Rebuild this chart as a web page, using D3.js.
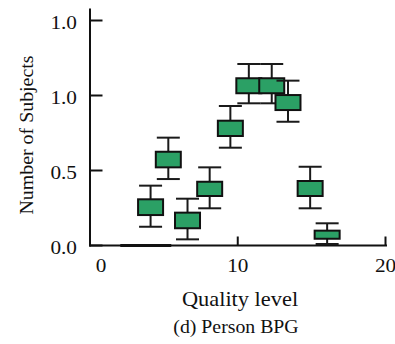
<!DOCTYPE html>
<html>
<head>
<meta charset="utf-8">
<script src="https://cdn.jsdelivr.net/npm/d3@7"></script>
<style>
  body { margin: 0; background: #fff; }
  svg text { font-family: "Liberation Serif", "Times New Roman", serif; fill: #111; }
</style>
</head>
<body>
<div id="chart"></div>
<script>
// box plot values
let quality = [4.1, 5.3, 6.6, 8.1, 9.5, 10.75, 12.3, 13.4, 14.9, 16.05];
let whiskerLow = [0.125, 0.443, 0.041, 0.248, 0.652, 0.948, 0.948, 0.825, 0.248, 0.01];
let q1 = [0.203, 0.521, 0.115, 0.33, 0.73, 1.015, 1.015, 0.903, 0.33, 0.045];
let q3 = [0.308, 0.625, 0.219, 0.425, 0.832, 1.115, 1.115, 1.003, 0.43, 0.099];
let whiskerHigh = [0.399, 0.719, 0.312, 0.521, 0.93, 1.21, 1.21, 1.099, 0.525, 0.148];
let zeroRun = [2.05, 5.5];

let xTicks = [0, 10, 20];
let yTicks = [0, 0.5, 1.0, 1.5];
let yTickLabels = ["0.0", "0.5", "1.0", "1.0"];

let width = 395;
let height = 344;

let svg = d3.select("#chart").append("svg")
    .attr("width", width)
    .attr("height", height);

let x = d3.scaleLinear().domain([0, 20]).range([90, 385.5]);
let y = d3.scaleLinear().domain([0, 1.5]).range([245.5, 20.5]);

// stretched text, the figure looks a bit wider than its font
function label(str, px, py, size, anchor, sx, rot) {
    return svg.append("text")
        .attr("transform", `translate(${px},${py})` + (rot ? ` rotate(${rot})` : "") + ` scale(${sx},1)`)
        .attr("text-anchor", anchor)
        .style("font-size", size + "px")
        .text(str);
}

// axes
svg.append("line")
    .attr("x1", x(0)).attr("x2", x(0))
    .attr("y1", y(1.58)).attr("y2", y(0) + 1)
    .attr("stroke", "#111").attr("stroke-width", 2);
svg.append("line")
    .attr("x1", x(0) - 1).attr("x2", x(20.1))
    .attr("y1", y(0)).attr("y2", y(0))
    .attr("stroke", "#111").attr("stroke-width", 2);
svg.append("line")
    .attr("x1", x(zeroRun[0])).attr("x2", x(zeroRun[1]))
    .attr("y1", y(0)).attr("y2", y(0))
    .attr("stroke", "#111").attr("stroke-width", 3);

svg.selectAll(".ytick")
    .data(yTicks)
    .join("line")
        .attr("x1", x(0)).attr("x2", x(0) + 12.5)
        .attr("y1", d => y(d)).attr("y2", d => y(d))
        .attr("stroke", "#111").attr("stroke-width", 2);

svg.selectAll(".xtick")
    .data(xTicks.slice(1))
    .join("line")
        .attr("x1", d => x(d)).attr("x2", d => x(d))
        .attr("y1", y(0)).attr("y2", y(0) - 9)
        .attr("stroke", "#111").attr("stroke-width", 2);

yTicks.forEach((d, i) => label(yTickLabels[i], 77, y(d) + 8, 18.5, "end", 1.15));
xTicks.forEach(d => label(String(d), x(d) + (d == 0 ? 11 : 0), 272, 18.5, "middle", 1.15));

label("Number of Subjects", 33, 135, 19.5, "middle", 1.02, -90);
label("Quality level", 240, 306, 20, "middle", 1.12);
label("(d) Person BPG", 236, 333, 18, "middle", 1.1);

// boxes
let boxW = 25;
let capW = 23;
let boxes = quality.map((q, i) => ({q: q, lo: whiskerLow[i], b: q1[i], t: q3[i], hi: whiskerHigh[i]}));

let g = svg.selectAll(".box")
    .data(boxes)
    .join("g");

g.append("line")
    .attr("x1", d => x(d.q)).attr("x2", d => x(d.q))
    .attr("y1", d => y(d.hi)).attr("y2", d => y(d.lo))
    .attr("stroke", "#1a1a1a").attr("stroke-width", 2);
g.append("line")
    .attr("x1", d => x(d.q) - capW / 2).attr("x2", d => x(d.q) + capW / 2)
    .attr("y1", d => y(d.hi)).attr("y2", d => y(d.hi))
    .attr("stroke", "#1a1a1a").attr("stroke-width", 2);
g.append("line")
    .attr("x1", d => x(d.q) - capW / 2).attr("x2", d => x(d.q) + capW / 2)
    .attr("y1", d => y(d.lo)).attr("y2", d => y(d.lo))
    .attr("stroke", "#1a1a1a").attr("stroke-width", 2);
g.append("rect")
    .attr("x", d => x(d.q) - boxW / 2)
    .attr("y", d => y(d.t))
    .attr("width", boxW)
    .attr("height", d => y(d.b) - y(d.t))
    .attr("fill", "#2ba065")
    .attr("stroke", "#111")
    .attr("stroke-width", 2);
</script>
</body>
</html>
